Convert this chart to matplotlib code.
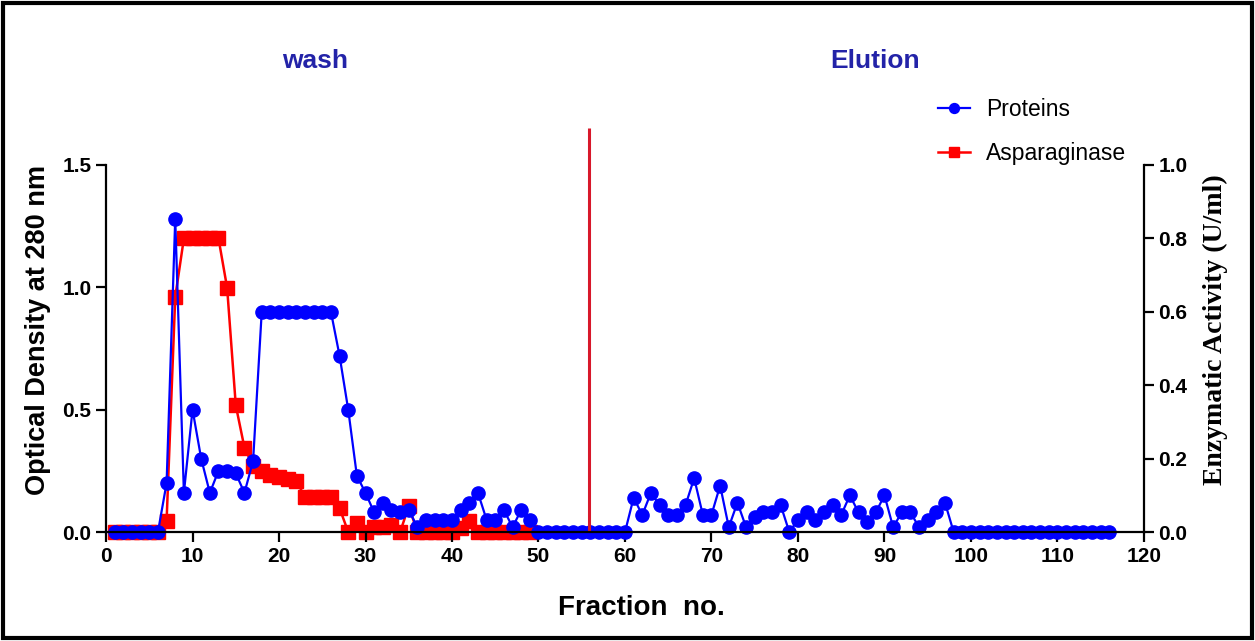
import matplotlib.pyplot as plt
import numpy as np
from matplotlib.patches import Rectangle

#********************************** Datos ****************************************

# Fracciones recogidas (eje X)
fractions_prot = np.arange(1, 117)
fractions_asp = np.arange(1, 50)

# Densidad óptica a 280 nm (proteínas)
proteins = [0, 0, 0, 0, 0, 0, 0.20, 1.28, 0.16, 0.50,
            0.30, 0.16, 0.25, 0.25, 0.24, 0.16, 0.29, 0.90, 0.90, 0.90,
            0.90, 0.90, 0.90, 0.90, 0.90, 0.90, 0.72, 0.50, 0.23, 0.16,
            0.08, 0.12, 0.09, 0.08, 0.09, 0.02, 0.05, 0.05, 0.05, 0.05,
            0.09, 0.12, 0.16, 0.05, 0.05, 0.09, 0.02, 0.09, 0.05, 0,
            0, 0, 0, 0, 0, 0, 0, 0, 0, 0,
            0.14, 0.07, 0.16, 0.11, 0.07, 0.07, 0.11, 0.22, 0.07, 0.07,
            0.19, 0.02, 0.12, 0.02, 0.06, 0.08, 0.08, 0.11, 0.0, 0.05,
            0.08, 0.05, 0.08, 0.11, 0.07, 0.15, 0.08, 0.04, 0.08, 0.15,
            0.02, 0.08, 0.08, 0.02, 0.05, 0.08, 0.12, 0, 0, 0,
            0, 0, 0, 0, 0, 0, 0, 0, 0, 0,
            0, 0, 0, 0, 0, 0]

# Actividad enzimática (U/ml)
asparaginase = [0, 0, 0, 0, 0, 0, 0.03, 0.64, 0.80, 0.80,
                0.80, 0.80, 0.80, 0.665, 0.345, 0.23, 0.18, 0.165, 0.155, 0.15,
                0.145, 0.14, 0.095, 0.095, 0.095, 0.095, 0.065, 0.0, 0.025, 0.0,
                0.015, 0.015, 0.02, 0.0, 0.07, 0, 0, 0, 0, 0,
                0.01, 0.03, 0, 0, 0, 0, 0, 0, 0]

# Separación lavado / elución
split_fraction = 55.8
split_top = 1.65

x_ticks = np.arange(0, 121, 10)
left_ticks = [0.0, 0.5, 1.0, 1.5]
right_ticks = [0.0, 0.2, 0.4, 0.6, 0.8, 1.0]

#******************************* Figura *****************************************

plt.rcParams['font.family'] = ['Liberation Sans', 'DejaVu Sans']

fig = plt.figure(figsize=(12.55, 6.41), dpi=100)
ax = fig.add_axes([0.0845, 0.170, 0.827, 0.630])
ax2 = ax.twinx()
ax.set_zorder(ax2.get_zorder() + 1)
ax.patch.set_visible(False)

blue = '#0000ff'
red = '#ff0000'

ax2.plot(fractions_asp, asparaginase, color=red, marker='s', markersize=9.5,
         linewidth=1.8, clip_on=False, label='Asparaginase')
ax.plot(fractions_prot, proteins, color=blue, marker='o', markersize=9.5,
        linewidth=1.6, clip_on=False, label='Proteins')
ax.vlines(split_fraction, 0, split_top, color='#d8182a', linewidth=2.2, clip_on=False)

ax.set_xlim(0, 120)
ax.set_ylim(0, 1.65)
ax2.set_ylim(0, 1.1)
ax.set_xticks(x_ticks)
ax.set_yticks(left_ticks)
ax.set_yticklabels(['%.1f' % v for v in left_ticks])
ax2.set_yticks(right_ticks)
ax2.set_yticklabels(['%.1f' % v for v in right_ticks])

for a in (ax, ax2):
    a.spines['top'].set_visible(False)
    for s in a.spines.values():
        s.set_linewidth(1.6)
ax.spines['right'].set_visible(False)
ax2.spines['left'].set_visible(False)
ax2.spines['bottom'].set_visible(False)
ax.spines['left'].set_bounds(0, 1.5)
ax2.spines['right'].set_bounds(0, 1.0)

ax.tick_params(axis='both', direction='out', length=7, width=1.6,
               labelsize=15)
ax2.tick_params(axis='y', direction='out', length=7, width=1.6, labelsize=15)
for lab in ax.get_xticklabels() + ax.get_yticklabels() + ax2.get_yticklabels():
    lab.set_fontweight('bold')

ax.set_xlabel('Fraction  no.', fontsize=20, fontweight='bold')
ax.xaxis.set_label_coords(0.516, -0.155)
ax.set_ylabel('Optical Density at 280 nm', fontsize=19.5, fontweight='bold',
              labelpad=8)
ax2.set_ylabel('Enzymatic Activity (U/ml)', fontsize=20, fontweight='bold',
               family=['Liberation Serif', 'DejaVu Serif'], labelpad=11)

fig.text(0.251, 0.905, 'wash', color='#2323a8', fontsize=19, fontweight='bold',
         ha='center', va='center')
fig.text(0.697, 0.905, 'Elution', color='#2323a8', fontsize=19, fontweight='bold',
         ha='center', va='center')

h1, l1 = ax.get_legend_handles_labels()
h2, l2 = ax2.get_legend_handles_labels()
fig.legend(h1 + h2, l1 + l2, loc='upper left', bbox_to_anchor=(0.731, 0.88),
           frameon=False, fontsize=16.5, handlelength=1.4, markerscale=0.75,
           handletextpad=0.7, labelspacing=0.95)

# Marco exterior
fig.patches.append(Rectangle((0.002, 0.004), 0.996, 0.992, transform=fig.transFigure,
                             fill=False, edgecolor='black', linewidth=3))

fig.savefig('out.png', dpi=100)
